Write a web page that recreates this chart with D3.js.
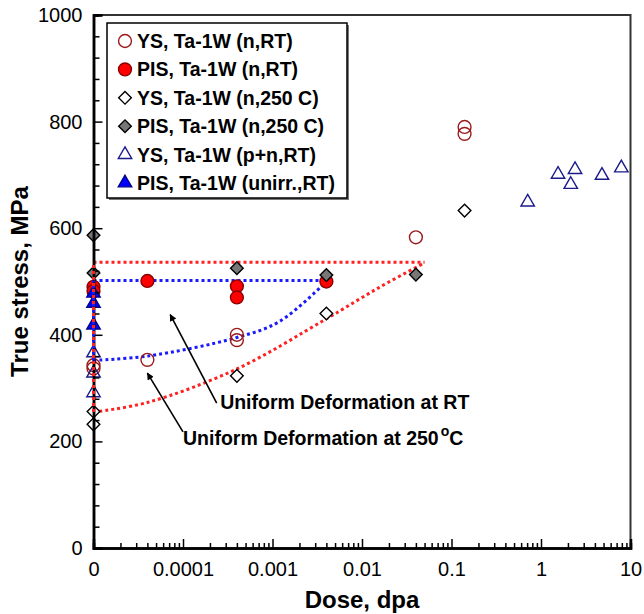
<!DOCTYPE html>
<html>
<head>
<meta charset="utf-8">
<script src="https://cdn.jsdelivr.net/npm/d3@7"></script>
<style>
	body { margin: 0; background: #fff; }
	svg { display: block; font-family: "Liberation Sans", Arial, sans-serif; }
	.axis path, .axis line { stroke: #000; }
	.axis text { font-size: 20px; fill: #000; }
	.legend text { font-size: 19.5px; font-weight: bold; }
	.note { font-size: 19.5px; font-weight: bold; }
	.title { font-size: 24px; font-weight: bold; }
</style>
</head>
<body>
<script>
// dose (dpa), true stress (MPa); dose 1e-5 is drawn at the "0" position
const ysNRT = [[1e-5, 343], [1e-5, 337], [4e-5, 353], [4e-4, 400], [4e-4, 390], [0.04, 583], [0.14, 790], [0.14, 777]];
const pisNRT = [[1e-5, 490], [1e-5, 482], [4e-5, 501], [4e-4, 491], [4e-4, 470], [0.004, 500]];
const ysN250 = [[1e-5, 256], [1e-5, 232], [4e-4, 323], [0.004, 440], [0.14, 633]];
const pisN250 = [[1e-5, 587], [1e-5, 516], [4e-4, 525], [0.004, 512], [0.04, 513]];
const ysPN = [[1e-5, 366], [1e-5, 328], [1e-5, 291], [0.71, 649], [1.55, 701], [2.15, 682], [2.4, 710], [4.8, 699], [7.9, 713]];
const pisUnirr = [[1e-5, 478], [1e-5, 459], [1e-5, 418]];

// uniform deformation bands (dotted)
const udRTLower = [[1e-5, 352], [4e-5, 360], [4e-4, 395], [1.2e-3, 425], [4e-3, 500]];
const udRTUpper = [[1e-5, 502], [4e-3, 502]];
const udRTEdge = [[1e-5, 352], [1e-5, 502]];
const ud250Lower = [[1e-5, 255], [4e-5, 273], [4e-4, 336], [4e-3, 430], [0.016, 490], [0.05, 535]];
const ud250Upper = [[1e-5, 536], [0.05, 536]];
const ud250Edge = [[1e-5, 255], [1e-5, 536]];

const xMajor = [1e-5, 1e-4, 1e-3, 1e-2, 1e-1, 1, 10];
const xLabels = ["0", "0.0001", "0.001", "0.01", "0.1", "1", "10"];
const yMajor = [0, 200, 400, 600, 800, 1000];

const legendLabels = [
	"YS, Ta-1W (n,RT)",
	"PIS, Ta-1W (n,RT)",
	"YS, Ta-1W (n,250 C)",
	"PIS, Ta-1W (n,250 C)",
	"YS, Ta-1W (p+n,RT)",
	"PIS, Ta-1W (unirr.,RT)",
];

// annotations: arrow tail, arrow head and text anchor in data units
const notes = [
	{ text: "Uniform Deformation at RT", from: [2.38e-4, 272], to: [7.2e-5, 438], at: [2.6e-4, 261] },
	{ text: "Uniform Deformation at 250", sup: "o", tail: "C", from: [1.0e-4, 218], to: [4e-5, 328], at: [1.0e-4, 193] },
];

const width = 644, height = 614;
const margin = { top: 15, right: 13.5, bottom: 66, left: 93.5 };

const x = d3.scaleLog().domain([1e-5, 10]).range([margin.left, width - margin.right]);
const y = d3.scaleLinear().domain([0, 1000]).range([height - margin.bottom, margin.top]);

const series = [
	{ data: ysNRT, type: d3.symbolCircle, size: 130, fill: "none", stroke: "#9a1a1a" },
	{ data: pisNRT, type: d3.symbolCircle, size: 130, fill: "#f00", stroke: "#8a0000" },
	{ data: ysN250, type: d3.symbolSquare, size: 80, rotate: 45, fill: "#fff", stroke: "#000" },
	{ data: pisN250, type: d3.symbolSquare, size: 80, rotate: 45, fill: "#777", stroke: "#000" },
	{ data: ysPN, type: d3.symbolTriangle, size: 78, fill: "none", stroke: "#1a1a8a" },
	{ data: pisUnirr, type: d3.symbolTriangle, size: 78, fill: "#00f", stroke: "#00008a" },
];

let minor = [];
for (let e = -5; e < 1; e++)
	for (let k = 2; k < 10; k++)
		minor.push(k * Math.pow(10, e));
let yMinor = d3.range(0, 1001, 40).filter(v => v % 200 != 0);

let svg = d3.select("body").append("svg")
	.attr("width", width)
	.attr("height", height);

svg.append("defs")
	.append("marker")
		.attr("id", "head")
		.attr("viewBox", "0 0 10 10")
		.attr("refX", 9)
		.attr("refY", 5)
		.attr("markerWidth", 10)
		.attr("markerHeight", 7)
		.attr("markerUnits", "userSpaceOnUse")
		.attr("orient", "auto")
		.append("path")
			.attr("d", "M0,0L10,5L0,10Z")
			.attr("fill", "#000");

let line = d3.line()
	.x(d => x(d[0]))
	.y(d => y(d[1]));
let curve = d3.line()
	.x(d => x(d[0]))
	.y(d => y(d[1]))
	.curve(d3.curveCatmullRom.alpha(0.5));

let dotted = (g, data, color, gen) => g.append("path")
	.attr("d", gen(data))
	.attr("fill", "none")
	.attr("stroke", color)
	.attr("stroke-width", 3)
	.attr("stroke-dasharray", "3,3");

let bands = svg.append("g").attr("class", "bands");
dotted(bands, ud250Upper, "#ff2020", line);
dotted(bands, ud250Lower, "#ff2020", curve);
dotted(bands, udRTUpper, "#1a1aff", line);
dotted(bands, udRTLower, "#1a1aff", curve);

let symbol = d3.symbol();
let points = svg.append("g").attr("class", "points");
for (let s of series) {
	points.append("g")
		.selectAll("path")
		.data(s.data)
		.enter()
		.append("path")
			.attr("transform", d => `translate(${x(d[0])},${y(d[1])}) rotate(${s.rotate || 0})`)
			.attr("d", symbol.type(s.type).size(s.size)())
			.attr("fill", s.fill)
			.attr("stroke", s.stroke)
			.attr("stroke-width", 1.4);
}

// frame
svg.append("path")
	.attr("d", `M${x(1e-5)},${y(1000)}H${x(10)}V${y(0)}`)
	.attr("fill", "none")
	.attr("stroke", "#333")
	.attr("stroke-width", 2);

let axisX = svg.append("g")
	.attr("class", "axis x")
	.attr("transform", `translate(0, ${y(0)})`);
axisX.append("g")
	.call(d3.axisBottom(x).tickValues(minor).tickSize(-5).tickFormat(""));
axisX.append("g")
	.call(d3.axisBottom(x).tickValues(xMajor).tickSize(-9).tickPadding(14).tickFormat((d, i) => xLabels[i]));
axisX.selectAll("path.domain").attr("stroke-width", 2.5);
axisX.selectAll("line").attr("stroke-width", 1.5);

let axisY = svg.append("g")
	.attr("class", "axis y")
	.attr("transform", `translate(${x(1e-5)}, 0)`);
axisY.append("g")
	.call(d3.axisLeft(y).tickValues(yMinor).tickSize(-6).tickFormat(""));
axisY.append("g")
	.call(d3.axisLeft(y).tickValues(yMajor).tickSize(-9).tickPadding(11).tickFormat(d3.format("d")));
axisY.selectAll("path.domain").attr("stroke-width", 2.5);
axisY.selectAll("line").attr("stroke-width", 1.5);

// band edges sit on the y axis and are drawn over it
let edges = svg.append("g").attr("class", "edges");
dotted(edges, udRTEdge, "#1a1aff", line);
dotted(edges, ud250Edge, "#ff2020", line);

svg.append("text")
	.attr("class", "title")
	.attr("x", (x.range()[0] + x.range()[1]) / 2)
	.attr("y", 608)
	.attr("text-anchor", "middle")
	.text("Dose, dpa");
svg.append("text")
	.attr("class", "title")
	.attr("transform", `translate(28, ${(y.range()[0] + y.range()[1]) / 2}) rotate(-90)`)
	.attr("text-anchor", "middle")
	.text("True stress, MPa");

// annotations
for (let n of notes) {
	svg.append("line")
		.attr("x1", x(n.from[0]))
		.attr("y1", y(n.from[1]))
		.attr("x2", x(n.to[0]))
		.attr("y2", y(n.to[1]))
		.attr("stroke", "#000")
		.attr("stroke-width", 1.6)
		.attr("marker-end", "url(#head)");
	let t = svg.append("text")
		.attr("class", "note")
		.attr("x", x(n.at[0]))
		.attr("y", y(n.at[1]))
		.text(n.text);
	if (n.sup) {
		t.append("tspan").attr("dy", -9).attr("dx", 2).style("font-size", "14px").text(n.sup);
		t.append("tspan").attr("dy", 9).text(n.tail);
	}
}

// legend
let legend = svg.append("g")
	.attr("class", "legend")
	.attr("transform", "translate(107, 23)");
legend.append("rect")
	.attr("x", 2)
	.attr("y", 2)
	.attr("width", 240)
	.attr("height", 175)
	.attr("fill", "#777");
legend.append("rect")
	.attr("width", 240)
	.attr("height", 175)
	.attr("fill", "#fff")
	.attr("stroke", "#000")
	.attr("stroke-width", 1.5);
let entries = legend.selectAll("g.entry")
	.data(series)
	.enter()
	.append("g")
		.attr("class", "entry")
		.attr("transform", (d, i) => `translate(18, ${18 + i * 28.4})`);
entries.append("path")
	.attr("transform", d => `rotate(${d.rotate || 0})`)
	.attr("d", d => symbol.type(d.type).size(d.size)())
	.attr("fill", d => d.fill == "none" ? "#fff" : d.fill)
	.attr("stroke", d => d.stroke)
	.attr("stroke-width", 1.4);
entries.append("text")
	.attr("x", 12)
	.attr("y", 7)
	.text((d, i) => legendLabels[i]);
</script>
</body>
</html>
